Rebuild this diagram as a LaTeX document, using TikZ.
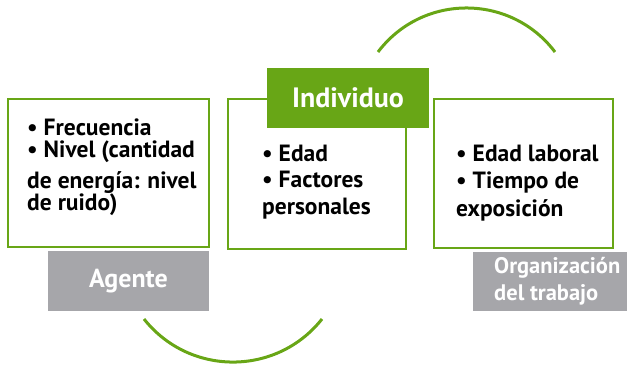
\documentclass[tikz,border=0pt]{standalone}
\usepackage{fontspec}
\setmainfont{PT Sans}
\usepackage{tikz}
\usetikzlibrary{positioning}
\definecolor{verde}{RGB}{104,166,22}
\definecolor{gris}{RGB}{166,166,170}
\tikzset{
	marco/.style={% green frames round the lists
		draw=verde, line width=2.6pt,
		rectangle,
		inner sep=0pt
	},
	etiqueta/.style={% grey tags below the frames
		fill=gris, text=white,
		rectangle,
		inner sep=0pt,
		font=\bfseries\fontsize{26}{27}\selectfont
	},
	lista/.style={
		anchor=north west,
		inner sep=0pt,
		align=left
	},
	arco/.style={draw=verde, line width=3pt}
}

\begin{document}
\begin{tikzpicture}[x=1pt,y=-1pt]
		\useasboundingbox (0,0) rectangle (627,365);
		
		\node (fAgente) [marco, minimum width=201pt, minimum height=148pt] at (108.5,173) {};
		\node (fIndividuo) [marco, minimum width=178pt, minimum height=150pt] at (317,174) {};
		\node (fOrg) [marco, minimum width=179pt, minimum height=149pt] at (523.5,173.5) {};
		
		\node (individuo) [fill=verde, text=white, inner sep=0pt, minimum width=162pt, minimum height=60pt,
			font=\bfseries\fontsize{28}{30}\selectfont] at (348,98) {Individuo};
		\node (agente) [etiqueta, minimum width=161pt, minimum height=60pt] at (128.5,281) {Agente};
		\node (org) [etiqueta, minimum width=154pt, minimum height=59pt] at (550,281.5) {};
		\node (orgTexto) [etiqueta, fill=none, anchor=west, align=left,
			font=\bfseries\fontsize{22.5}{27}\selectfont] at (494,281.5) {Organización\\del trabajo};
		
		% Lists
		\node (lAgente) [lista, font=\bfseries\fontsize{23.5}{22}\selectfont] at (27,119)
		{• Frecuencia\\• Nivel (cantidad\\[7.5pt]de energía: nivel\\de ruido)};
		\node (lIndividuo) [lista, font=\bfseries\fontsize{23.5}{26.5}\selectfont] at (262,144.5)
		{• Edad\\• Factores\\personales};
		\node (lOrg) [lista, font=\bfseries\fontsize{23.5}{27.5}\selectfont] at (456,144.5)
		{• Edad laboral\\• Tiempo de\\exposición};
		
		% Arcs
		\coordinate (a1) at (378,52);
		\coordinate (a2) at (555,52);
		\draw[arco] (a1) .. controls +(44.4,-58.7) and +(-44.4,-58.7) .. (a2);
		\coordinate (b1) at (144,319);
		\coordinate (b2) at (322,319);
		\draw[arco] (b1) .. controls +(45.5,57.4) and +(-45.5,57.4) .. (b2);
\end{tikzpicture}
\end{document}
